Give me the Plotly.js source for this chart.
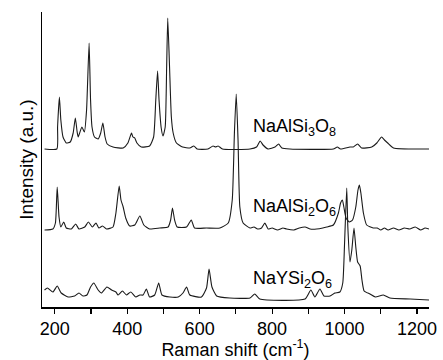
<!DOCTYPE html>
<html>
<head>
<meta charset="utf-8">
<script src="https://cdn.plot.ly/plotly-3.0.1.min.js"></script>
<style>html,body{margin:0;padding:0;background:#fff}#chart{width:443px;height:360px}</style>
</head>
<body>
<div id="chart"></div>
<script>
// Raman shift (cm-1) and stacked intensity (a.u.)
const shiftAlbite = [172,206,208,213,217,223,232,243,251,257,262,265,275,282,288,295,299,303,310,320,327,333,339,345,361,389,402,412,416,421,427,439,462,473,479,484,488,494,499,505,509,512,517,522,527,536,553,573,584,593,623,637,644,651,663,739,757,767,775,789,808,818,827,849,969,980,989,1015,1024,1036,1047,1075,1089,1102,1110,1119,1135,1233];
const intAlbite = [158,158,180,210,187,170,164,165,174,189,175,170,180,175,197,264,207,180,170,168,174,184,170,163,160,159,164,174,170,169,164,160,161,170,207,236,207,179,171,180,240,289,240,190,174,164,160,159,161,158,158,161,160,161,158,158,160,166,162,158,160,163,159,158,158,160,158,160,160,163,159,160,164,170,167,164,159,158];

const shiftJadeite = [172,195,202,207,212,217,225,232,246,258,267,283,293,304,314,322,332,343,361,369,378,383,389,396,407,421,435,446,462,490,513,520,525,531,538,564,577,586,619,656,679,690,696,701,706,711,720,739,750,760,771,780,789,800,815,830,840,860,875,891,905,923,940,951,969,983,989,994,998,1004,1013,1022,1031,1037,1041,1045,1052,1061,1079,1090,1100,1110,1120,1135,1150,1165,1180,1195,1210,1222,1233];
const intJadeite = [77,78,84,120,90,80,85,79,78,83,78,80,85,80,84,79,81,78,80,94,121,107,100,89,81,82,91,82,78,79,80,87,99,87,80,80,87,79,79,79,84,107,174,213,167,100,84,79,80,78,79,84,78,79,77,79,78,77,79,80,78,78,79,80,82,94,104,107,100,89,85,87,100,117,122,114,94,82,79,79,77,79,77,79,77,79,78,80,77,79,78];

const shiftNaY = [172,180,195,207,218,237,255,267,278,289,299,308,320,329,344,357,369,375,387,398,410,424,435,444,453,462,476,487,496,518,541,554,564,573,605,619,626,634,647,683,739,752,766,891,907,918,932,943,960,973,987,995,1000,1006,1009,1015,1020,1026,1031,1036,1043,1048,1054,1070,1085,1107,1125,1181,1233];
const intNaY = [17,19,15,21,14,10,11,14,11,12,20,24,17,14,20,17,15,12,16,12,15,10,12,12,18,10,12,24,12,10,10,14,20,12,10,19,38,20,11,9,9,13,8,8,17,10,18,11,11,14,15,24,64,119,80,45,57,79,60,45,41,27,16,13,10,12,9,8,7];

const seriesNames = ["NaAlSi<sub>3</sub>O<sub>8</sub>", "NaAlSi<sub>2</sub>O<sub>6</sub>", "NaYSi<sub>2</sub>O<sub>6</sub>"];
const labelY = [180, 100, 28];
const labelX = 743;
const tickValues = [200,300,400,500,600,700,800,900,1000,1100,1200];
const tickLabels = ["200","","400","","600","","800","","1000","","1200"];

const lineStyle = {color:'#1a1a1a', width:1.1, shape:'spline', smoothing:0.5};
const traces = [
  {x: shiftAlbite, y: intAlbite},
  {x: shiftJadeite, y: intJadeite},
  {x: shiftNaY, y: intNaY}
].map((t,i)=>({x:t.x, y:t.y, type:'scatter', mode:'lines', line:lineStyle, name:seriesNames[i], hoverinfo:'skip'}));

const font = {family:'"Liberation Sans", Arial, sans-serif', color:'#000'};
const layout = {
  width:443, height:360,
  margin:{l:42, r:14, t:12, b:53},
  paper_bgcolor:'#fff', plot_bgcolor:'#fff',
  showlegend:false,
  font: Object.assign({size:18}, font),
  xaxis:{
    range:[165,1233], showgrid:false, zeroline:false,
    showline:true, linecolor:'#000', linewidth:1.5,
    ticks:'outside', ticklen:5, tickwidth:1.2, tickcolor:'#000',
    tickmode:'array', tickvals:tickValues, ticktext:tickLabels,
    tickfont:Object.assign({size:18}, font),
    title:{text:'Raman shift (cm<sup>-1</sup>)', font:Object.assign({size:18}, font), standoff:3}
  },
  yaxis:{
    range:[0,295], showgrid:false, zeroline:false,
    showline:true, linecolor:'#000', linewidth:1.5,
    ticks:'', showticklabels:false,
    title:{text:'Intensity (a.u.)', font:Object.assign({size:19}, font), standoff:2}
  },
  annotations: seriesNames.map((s,i)=>({
    x:labelX, y:labelY[i], xref:'x', yref:'y', text:s, showarrow:false,
    xanchor:'left', yanchor:'middle', font:Object.assign({size:18}, font)
  }))
};
Plotly.newPlot('chart', traces, layout, {staticPlot:true, displayModeBar:false});
</script>
</body>
</html>
